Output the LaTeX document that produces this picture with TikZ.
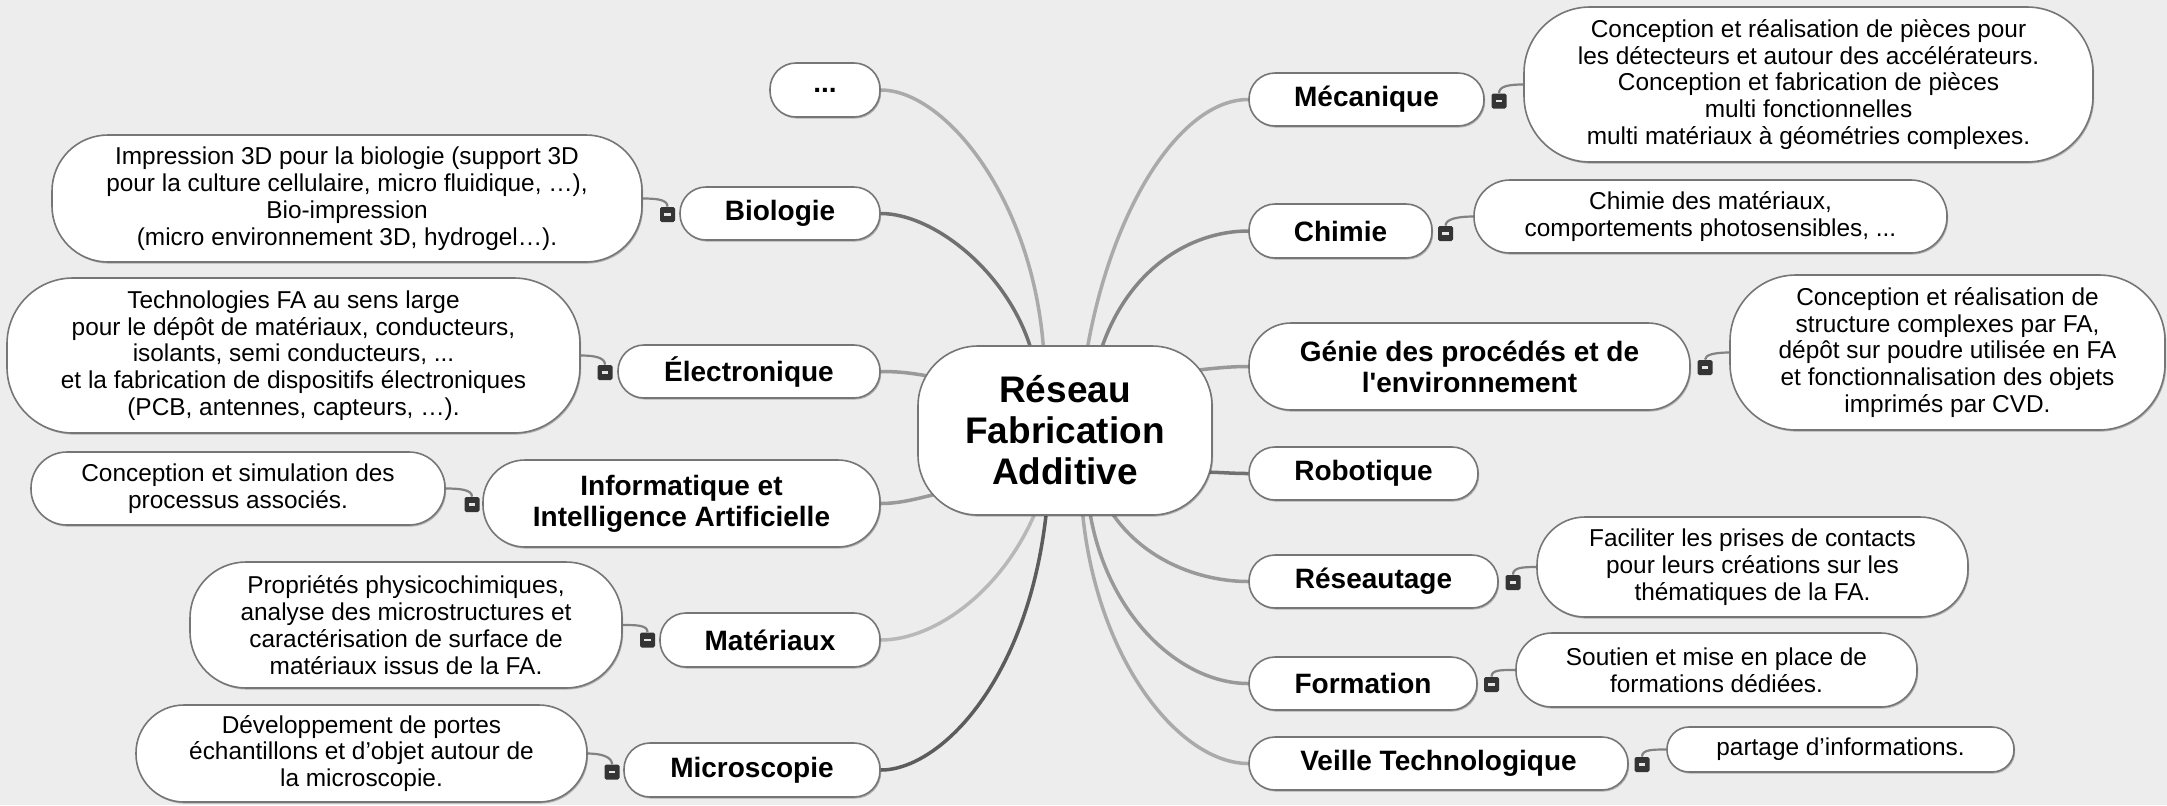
\documentclass[tikz,border=0pt]{standalone}
\usepackage{fontspec}
\setmainfont{Liberation Sans}[Ligatures=TeXOff]
\usetikzlibrary{shadows}
\definecolor{bgcol}{RGB}{237,237,237}
\definecolor{nodeborder}{RGB}{118,118,118}
\definecolor{iconcol}{RGB}{52,52,52}
\definecolor{lnA}{RGB}{170,170,170}
\definecolor{lnB}{RGB}{112,112,112}
\definecolor{lnC}{RGB}{153,153,153}
\definecolor{lnD}{RGB}{184,184,184}
\definecolor{lnE}{RGB}{92,92,92}
\definecolor{lnF}{RGB}{133,133,133}
\definecolor{subcol}{RGB}{130,130,130}
\pgfdeclarelayer{bg}
\pgfsetlayers{bg,main}
\tikzset{
  base/.style={draw=nodeborder, line width=0.8pt, fill=white, inner sep=0pt, align=center,
    drop shadow={shadow xshift=0.6pt, shadow yshift=-0.8pt, fill=black, opacity=0.25}},
  topic/.style={base, font=\fontsize{14}{15.5}\selectfont\bfseries, rounded corners=13pt},
  topictwo/.style={base, font=\fontsize{14}{15.5}\selectfont\bfseries, rounded corners=21pt},
  desc/.style={base, font=\fontsize{12.2}{13.4}\selectfont},
  centre/.style={base, font=\fontsize{18.5}{20.5}\selectfont\bfseries, rounded corners=30pt},
  ic/.style={fill=iconcol, minimum width=7.5pt, minimum height=7.5pt, inner sep=0pt, rounded corners=0.8pt,
     path picture={\draw[white!80!gray, line width=1.1pt] ([xshift=-1.6pt]path picture bounding box.center) -- ([xshift=1.6pt]path picture bounding box.center);}},
  branch/.style={line width=1.75pt, line cap=round},
  sub/.style={draw=subcol, line width=1.1pt},
}
\begin{document}
\begin{tikzpicture}[x=0.5pt,y=-0.5pt]
\useasboundingbox (0,0) rectangle (2167,805);

% centre
\node[centre, minimum width=147pt, minimum height=84.5pt] (c) at (1065,430.5) {Réseau\\Fabrication\\Additive};

% left topics
\node[topic, minimum width=55pt, minimum height=27pt] (dots) at (825,90) {...};
\node[topic, minimum width=100pt, minimum height=26.5pt] (bio) at (780,213.5) {Biologie};
\node[topic, minimum width=131pt, minimum height=26.5pt] (elec) at (749,371.5) {Électronique};
\node[topictwo, minimum width=198.5pt, minimum height=43.5pt] (info) at (681.5,503.5) {Informatique et\\Intelligence Artificielle};
\node[topic, minimum width=110pt, minimum height=27pt] (mat) at (770,640) {Matériaux};
\node[topic, minimum width=128pt, minimum height=27pt] (micro) at (752,770) {Microscopie};

% right topics
\node[topic, minimum width=117.5pt, minimum height=26.5pt] (meca) at (1366.5,99.5) {Mécanique};
\node[topic, minimum width=91.5pt, minimum height=27pt] (chim) at (1340.5,231) {Chimie};
\node[topictwo, minimum width=220.5pt, minimum height=43.5pt] (genie) at (1469.5,366.5) {Génie des procédés et de\\l'environnement};
\node[topic, minimum width=114.5pt, minimum height=26.5pt] (robot) at (1363.5,473.5) {Robotique};
\node[topic, minimum width=124.5pt, minimum height=26.5pt] (res) at (1373.5,581.5) {Réseautage};
\node[topic, minimum width=114pt, minimum height=26.5pt] (form) at (1363,683.5) {Formation};
\node[topic, minimum width=189.5pt, minimum height=26.5pt] (veille) at (1438.5,763.5) {Veille Technologique};

% descriptions left
\node[desc, rounded corners=28pt, minimum width=295pt, minimum height=63.5pt] (biod) at (347,198.5)
  {Impression 3D pour la biologie (support 3D\\pour la culture cellulaire, micro fluidique, …),\\Bio-impression\\(micro environnement 3D, hydrogel…).};
\node[desc, rounded corners=33pt, minimum width=286.5pt, minimum height=77.5pt] (elecd) at (293.5,355.5)
  {Technologies FA au sens large\\pour le dépôt de matériaux, conducteurs,\\isolants, semi conducteurs, ...\\et la fabrication de dispositifs électroniques\\(PCB, antennes, capteurs, …).};
\node[desc, rounded corners=18pt, minimum width=207pt, minimum height=36.5pt] (infod) at (238,488.5)
  {Conception et simulation des\\processus associés.};
\node[desc, rounded corners=28pt, minimum width=216pt, minimum height=63pt] (matd) at (406,625)
  {Propriétés physicochimiques,\\analyse des microstructures et\\caractérisation de surface de\\matériaux issus de la FA.};
\node[desc, rounded corners=24pt, minimum width=225.5pt, minimum height=48.5pt] (microd) at (361.5,753.5)
  {Développement de portes\\échantillons et d’objet autour de\\la microscopie.};

% descriptions right
\node[desc, rounded corners=33pt, minimum width=284.5pt, minimum height=77.5pt] (mecad) at (1808.5,84.5)
  {Conception et réalisation de pièces pour\\les détecteurs et autour des accélérateurs.\\Conception et fabrication de pièces\\multi fonctionnelles\\multi matériaux à géométries complexes.};
\node[desc, rounded corners=18pt, minimum width=236.5pt, minimum height=36.5pt] (chimd) at (1710.5,216.5)
  {Chimie des matériaux,\\comportements photosensibles, ...};
\node[desc, rounded corners=33pt, minimum width=217.5pt, minimum height=77.5pt] (genied) at (1947.5,352.5)
  {Conception et réalisation de\\structure complexes par FA,\\dépôt sur poudre utilisée en FA\\et fonctionnalisation des objets\\imprimés par CVD.};
\node[desc, rounded corners=24pt, minimum width=215.5pt, minimum height=50pt] (resd) at (1752.5,567)
  {Faciliter les prises de contacts\\pour leurs créations sur les\\thématiques de la FA.};
\node[desc, rounded corners=18pt, minimum width=200.5pt, minimum height=37pt] (formd) at (1716.5,670)
  {Soutien et mise en place de\\formations dédiées.};
\node[desc, rounded corners=11pt, minimum width=173.5pt, minimum height=22.5pt] (veilled) at (1840.5,749.5)
  {partage d’informations.};

% collapse icons
\node[ic] (ibio) at (667.5,214.5) {};
\node[ic] (ielec) at (605,372.5) {};
\node[ic] (iinfo) at (472,504.5) {};
\node[ic] (imat) at (647.5,640) {};
\node[ic] (imicro) at (612,772) {};
\node[ic] (imeca) at (1499,101) {};
\node[ic] (ichim) at (1445.5,233.5) {};
\node[ic] (igenie) at (1705,367.5) {};
\node[ic] (ires) at (1513,582.5) {};
\node[ic] (iform) at (1491.5,684.5) {};
\node[ic] (iveille) at (1642,764.5) {};

\begin{pgfonlayer}{bg}
\fill[bgcol] (0,0) rectangle (2167,805);
% main branches, left
\draw[branch, lnA] ([xshift=-10.5pt,yshift=-5.5pt]c.north) .. controls (1035,200) and (945,90) .. (dots.east);
\draw[branch, lnB] ([xshift=-16pt,yshift=-5.5pt]c.north) .. controls (1012,275) and (935,213.5) .. (bio.east);
\draw[branch, lnC] ([xshift=13.5pt,yshift=26pt]c.west) .. controls (915,374) and (905,371.5) .. (elec.east);
\draw[branch, lnC] ([xshift=18.5pt,yshift=-29.75pt]c.west) .. controls (925,496) and (905,503.5) .. (info.east);
\draw[branch, lnD] ([xshift=-13.5pt,yshift=5pt]c.south) .. controls (1005,590) and (935,640) .. (mat.east);
\draw[branch, lnE] ([xshift=-9pt,yshift=5pt]c.south) .. controls (1030,680) and (940,770) .. (micro.east);
% main branches, right
\draw[branch, lnA] ([xshift=10.5pt,yshift=-5.5pt]c.north) .. controls (1110,210) and (1180,99.5) .. (meca.west);
\draw[branch, lnF] ([xshift=17pt,yshift=-5.5pt]c.north) .. controls (1125,270) and (1190,231) .. (chim.west);
\draw[branch, lnC] ([xshift=-16pt,yshift=29.25pt]c.east) .. controls (1215,368) and (1230,366.5) .. (genie.west);
\draw[branch, lnB] ([xshift=-8.5pt,yshift=-20.75pt]c.east) .. controls (1220,472) and (1230,473.5) .. (robot.west);
\draw[branch, lnC] ([xshift=21.5pt,yshift=4.5pt]c.south) .. controls (1140,560) and (1200,581.5) .. (res.west);
\draw[branch, lnC] ([xshift=12pt,yshift=4.5pt]c.south) .. controls (1105,615) and (1180,683.5) .. (form.west);
\draw[branch, lnA] ([xshift=8.5pt,yshift=4.5pt]c.south) .. controls (1095,660) and (1180,763.5) .. (veille.west);
% description connectors
\draw[sub] (biod.east) .. controls +(14,0) and +(0,-7) .. (ibio.north);
\draw[sub] (elecd.east) .. controls +(14,0) and +(0,-7) .. (ielec.north);
\draw[sub] (infod.east) .. controls +(14,0) and +(0,-7) .. (iinfo.north);
\draw[sub] (matd.east) .. controls +(14,0) and +(0,-7) .. (imat.north);
\draw[sub] (microd.east) .. controls +(14,0) and +(0,-7) .. (imicro.north);
\draw[sub] (mecad.west) .. controls +(-14,0) and +(0,-7) .. (imeca.north);
\draw[sub] (chimd.west) .. controls +(-14,0) and +(0,-7) .. (ichim.north);
\draw[sub] (genied.west) .. controls +(-14,0) and +(0,-5) .. (igenie.north);
\draw[sub] (resd.west) .. controls +(-14,0) and +(0,-7) .. (ires.north);
\draw[sub] (formd.west) .. controls +(-14,0) and +(0,-7) .. (iform.north);
\draw[sub] (veilled.west) .. controls +(-14,0) and +(0,-7) .. (iveille.north);
\end{pgfonlayer}
\end{tikzpicture}
\end{document}
